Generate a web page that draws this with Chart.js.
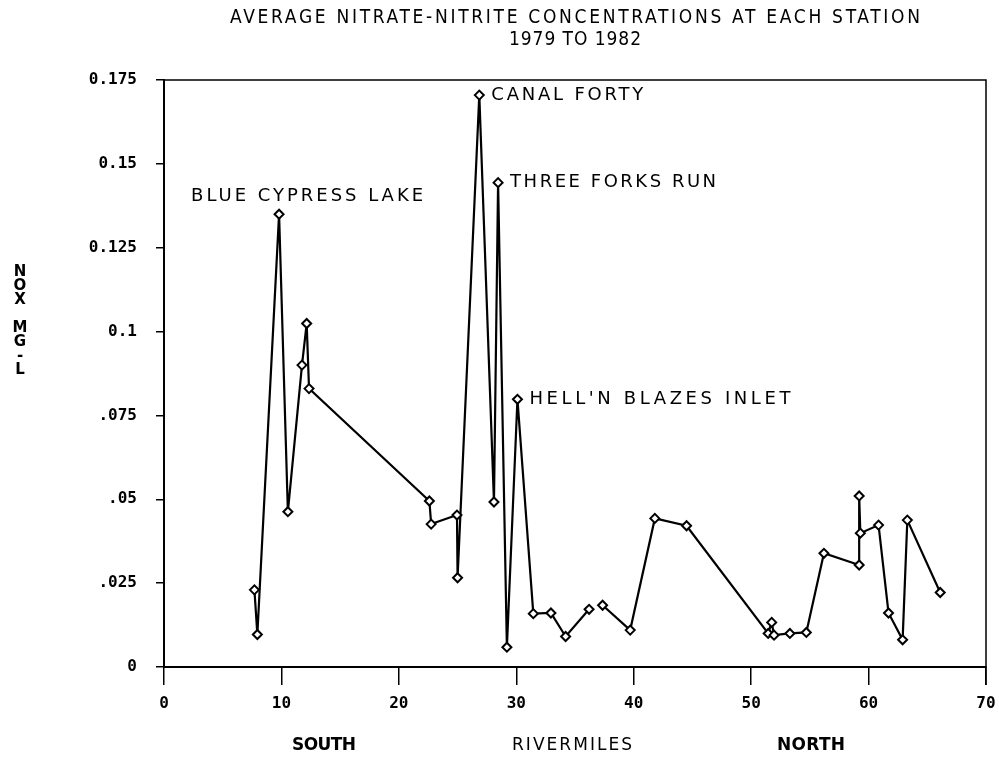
<!DOCTYPE html>
<html>
<head>
<meta charset="utf-8">
<script src="https://cdn.jsdelivr.net/npm/chart.js@4"></script>
<style>
  html, body { margin: 0; padding: 0; background: #fff; }
</style>
</head>
<body>
<canvas id="noxChart" width="999" height="763"></canvas>
<script>
// Station averages along the river, south to north
const rivermiles = [7.7, 7.95, 9.8, 10.55, 11.75, 12.15, 12.35, 22.6, 22.75, 24.95, 25.0,
    26.85, 28.1, 28.45, 29.2, 30.1, 31.45, 32.95, 34.2, 36.2, 37.35, 39.7, 41.8, 44.5,
    51.45, 51.75, 51.95, 53.3, 54.7, 56.2, 59.2, 59.2, 59.3, 60.85, 61.7, 62.9, 63.3, 66.1];
const noxMgL = [0.023, 0.0097, 0.135, 0.0463, 0.090, 0.1024, 0.083, 0.0495, 0.0426, 0.0453, 0.0266,
    0.1705, 0.0492, 0.1444, 0.0059, 0.0798, 0.0159, 0.0161, 0.0091, 0.0172, 0.0184, 0.011, 0.0443, 0.0421,
    0.0100, 0.0133, 0.0095, 0.0100, 0.0103, 0.0339, 0.0304, 0.051, 0.0399, 0.0423, 0.0161, 0.0081, 0.0438, 0.0222];

// segment left undrawn between these two stations
const gapAfter = 19;

const xTicks = [0, 10, 20, 30, 40, 50, 60, 70];
const yTicks = [0, 0.025, 0.05, 0.075, 0.1, 0.125, 0.15, 0.175];
const yTickLabels = ['0', '.025', '.05', '.075', '0.1', '0.125', '0.15', '0.175'];

const stationNames = ['BLUE CYPRESS LAKE', 'CANAL FORTY', 'THREE FORKS RUN', "HELL'N BLAZES INLET"];
const stationIndex = [2, 11, 13, 15];

const titleLines = ['AVERAGE NITRATE-NITRITE CONCENTRATIONS AT EACH STATION', '1979 TO 1982'];
const yTitleChars = ['N', 'O', 'X', '', 'M', 'G', '-', 'L'];

// draw text stretched to a given width with letter spacing
function spacedText(ctx, text, x, y, width, align) {
    ctx.letterSpacing = '0px';
    const w = ctx.measureText(text).width;
    const ls = text.length > 1 ? (width - w) / (text.length - 1) : 0;
    ctx.letterSpacing = ls + 'px';
    ctx.textAlign = 'left';
    const left = align === 'center' ? x - width / 2 : x;
    ctx.fillText(text, left, y);
    ctx.letterSpacing = '0px';
}

const decorations = {
    id: 'decorations',
    afterDatasetsDraw(chart) {
        const ctx = chart.ctx;
        const area = chart.chartArea;
        const xs = chart.scales.x;
        const ys = chart.scales.y;
        const midX = (area.left + area.right) / 2;

        ctx.save();
        ctx.fillStyle = '#000';
        ctx.strokeStyle = '#000';

        // frame: top edge and right edge (right edge runs down past the axis)
        ctx.lineWidth = 1.5;
        ctx.beginPath();
        ctx.moveTo(area.left, area.top);
        ctx.lineTo(area.right, area.top);
        ctx.lineTo(area.right, area.bottom + 18);
        ctx.stroke();

        ctx.textBaseline = 'middle';

        // title
        ctx.font = '19px "Liberation Sans Narrow", "DejaVu Sans Condensed", "DejaVu Sans"';
        spacedText(ctx, titleLines[0], midX, 18, 690, 'center');
        spacedText(ctx, titleLines[1], midX, 40, 132, 'center');

        // stacked y-axis title
        ctx.font = 'bold 15px "DejaVu Sans"';
        ctx.textAlign = 'center';
        yTitleChars.forEach((c, i) => {
            ctx.fillText(c, 20, 272 + i * 14);
        });

        // captions under the x axis
        ctx.font = 'bold 17px "DejaVu Sans"';
        spacedText(ctx, 'SOUTH', 324, 746, 64, 'center');
        spacedText(ctx, 'NORTH', 811, 746, 68, 'center');
        ctx.font = '17px "DejaVu Sans"';
        spacedText(ctx, 'RIVERMILES', 572, 746, 120, 'center');

        // station labels
        ctx.font = '18px "DejaVu Sans"';
        const widths = [232, 152, 206, 261];
        stationNames.forEach((name, k) => {
            const i = stationIndex[k];
            const px = xs.getPixelForValue(rivermiles[i]);
            const py = ys.getPixelForValue(noxMgL[i]);
            if (k === 0) {
                spacedText(ctx, name, px - 88, py - 18, widths[k], 'left');
            } else {
                spacedText(ctx, name, px + 12, py, widths[k], 'left');
            }
        });

        ctx.restore();
    }
};

const tickFont = { family: '"DejaVu Sans Mono", monospace', size: 16, weight: 'bold' };

new Chart(document.getElementById('noxChart'), {
    type: 'line',
    data: {
        datasets: [{
            data: rivermiles.map((m, i) => ({ x: m, y: noxMgL[i] })),
            borderColor: '#000',
            borderWidth: 2.2,
            tension: 0,
            pointStyle: 'rectRot',
            pointRadius: 4.5,
            pointBorderWidth: 2,
            pointBorderColor: '#000',
            pointBackgroundColor: '#fff',
            segment: {
                borderColor: ctx => ctx.p0DataIndex === gapAfter ? 'rgba(0,0,0,0)' : '#000'
            }
        }]
    },
    options: {
        responsive: false,
        animation: false,
        devicePixelRatio: 1,
        layout: { padding: { top: 80, right: 13, left: 0, bottom: 0 } },
        plugins: {
            legend: { display: false },
            tooltip: { enabled: false },
            title: { display: false }
        },
        scales: {
            x: {
                type: 'linear',
                min: 0,
                max: 70,
                afterBuildTicks: s => { s.ticks = xTicks.map(v => ({ value: v })); },
                afterFit: s => { s.height = 96; s.paddingLeft = 0; s.paddingRight = 0; },
                grid: { drawOnChartArea: false, tickLength: 18, color: '#000', lineWidth: 1.5 },
                border: { color: '#000', width: 2 },
                ticks: { font: tickFont, color: '#000', padding: 9, maxRotation: 0, autoSkip: false }
            },
            y: {
                type: 'linear',
                min: 0,
                max: 0.175,
                afterBuildTicks: s => { s.ticks = yTicks.map(v => ({ value: v })); },
                afterFit: s => { s.width = 164; s.paddingTop = 0; s.paddingBottom = 0; },
                grid: { drawOnChartArea: false, tickLength: 8, color: '#000', lineWidth: 1.5 },
                border: { color: '#000', width: 2 },
                ticks: {
                    font: tickFont,
                    color: '#000',
                    padding: 19,
                    autoSkip: false,
                    callback: (value, index) => yTickLabels[index]
                }
            }
        }
    },
    plugins: [decorations]
});
</script>
</body>
</html>
